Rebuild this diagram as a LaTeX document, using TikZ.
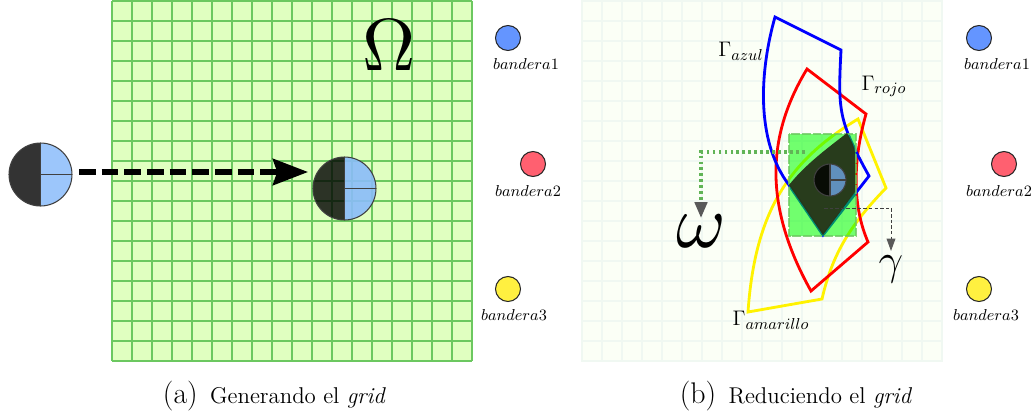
\documentclass[tikz,border=0pt]{standalone}
\usepackage{amsmath,amssymb}
\usepackage{tikz}
\usetikzlibrary{arrows.meta,positioning}

\definecolor{mallafondo}{HTML}{E0FFC0}
\definecolor{mallalinea}{HTML}{6CC860}
\definecolor{tenuefondo}{HTML}{FBFFF6}
\definecolor{tenuelinea}{HTML}{F0F8F2}
\definecolor{azulclaro}{HTML}{8ABCFA}
\definecolor{azulact}{HTML}{6090BD}
\definecolor{azulbandera}{HTML}{6495FF}
\definecolor{rojobandera}{HTML}{FF6070}
\definecolor{amarillobandera}{HTML}{FFF040}
\definecolor{cometa}{HTML}{26361A}

\begin{document}
\begin{tikzpicture}[
  x=0.02cm, y=-0.02cm,
  agente/.style 2 args={draw=black!75, line width=0.6pt, circle, inner sep=0pt,
    path picture={
      \fill[#1] (path picture bounding box.north west) rectangle (path picture bounding box.south);
      \fill[#2] (path picture bounding box.north) rectangle (path picture bounding box.south east);
      \draw[black!75, line width=0.7pt] (path picture bounding box.north) -- (path picture bounding box.south);
      \draw[black!75, line width=0.7pt] (path picture bounding box.center) -- (path picture bounding box.east);
    }},
  bandera/.style={draw=black!85, line width=0.6pt, circle, minimum size=0.5cm, inner sep=0pt},
  etiqueta/.style={font=\fontsize{8.7}{10}\selectfont, inner sep=0pt},
  gamma/.style={font=\fontsize{12.8}{14}\selectfont, inner sep=0pt},
  leyenda/.style={font=\fontsize{13}{15}\selectfont, inner sep=0pt},
  contorno/.style={line width=1.6pt, line join=miter},
  mover/.style={line width=2.9pt, dash pattern=on 9.5pt off 3.4pt,
                -{Stealth[length=20pt, width=15pt, inset=2.5pt]}},
  guia/.style={draw=mallalinea!90!black, line width=2pt, dash pattern=on 1.6pt off 1.8pt, shorten >=-1.7pt,
               -{Triangle[length=9pt, width=7pt, fill=black!65, color=black!65]}},
  guiados/.style={draw=black!75, line width=0.5pt, dash pattern=on 2pt off 1.2pt, shorten >=2.3pt,
                  -{Triangle[length=7pt, width=5pt, fill=black!65, color=black!65]}}
]
  \useasboundingbox (0,0) rectangle (1036,417);

  \fill[mallafondo] (112,1) rectangle (472,361);
  \foreach \k in {0,...,18} {
    \draw[mallalinea, line width=1.3pt] (112+20*\k,1) -- (112+20*\k,361);
    \draw[mallalinea, line width=1.3pt] (112,1+20*\k) -- (472,1+20*\k);
  }
  \fill[tenuefondo] (581,1) rectangle (943,361);
  \foreach \k in {0,...,18} {
    \draw[tenuelinea, line width=1.3pt] (582+20*\k,1) -- (582+20*\k,361);
    \draw[tenuelinea, line width=1.3pt] (581,1+20*\k) -- (943,1+20*\k);
  }

  \node[inner sep=0pt] (Om) at (389,45) {\scalebox{4.2}{$\Omega$}};

  \node[agente={black, fill opacity=0.8}{azulclaro!85!white}, minimum size=1.26cm] (ini) at (40.5,174.5) {};
  \node[agente={black, fill opacity=0.8}{azulclaro, fill opacity=0.9}, minimum size=1.26cm] (fin) at (344.5,188.5) {};
  \coordinate (sal) at (79,172);
  \coordinate (lle) at (308,172);
  \draw[mover] (sal) -- (lle);

  \node[bandera, fill=azulbandera]     (b1) at (508,38)  {};
  \node[bandera, fill=rojobandera]     (b2) at (533,164) {};
  \node[bandera, fill=amarillobandera] (b3) at (508,289) {};
  \node[etiqueta] (lb1) at (526,64)  {$bandera1$};
  \node[etiqueta] (lb2) at (528,191) {$bandera2$};
  \node[etiqueta] (lb3) at (514,315) {$bandera3$};

  \node[bandera, fill=azulbandera]     (c1) at (979,38)  {};
  \node[bandera, fill=rojobandera]     (c2) at (1004,164) {};
  \node[bandera, fill=amarillobandera] (c3) at (979,289) {};
  \node[etiqueta] (lc1) at (997,64)  {$bandera1$};
  \node[etiqueta] (lc2) at (999,191) {$bandera2$};
  \node[etiqueta] (lc3) at (986,315) {$bandera3$};

  \draw[contorno, yellow] (858,119) -- (886,188)
    .. controls (850,225) and (832,255) .. (822,299) -- (748,312)
    .. controls (755,210) and (790,160) .. cycle;
  \draw[contorno, red] (807,69) -- (866,114)
    .. controls (853,160) and (852,205) .. (868,242) -- (811,291)
    .. controls (760,200) and (770,130) .. cycle;
  \draw[contorno, blue] (775,17) -- (841,50)
    .. controls (838,110) and (838,120) .. (869,176) -- (823,235) -- (789,185)
    .. controls (755,140) and (760,70) .. cycle;

  \fill[green, fill opacity=0.55] (789,134) rectangle (856,236);
  \draw[mallalinea, opacity=0.8, line width=1.2pt, dash pattern=on 5pt off 1pt] (789,134) rectangle (856,236);
  \fill[cometa, fill opacity=0.97] (847,133) .. controls (851,140) and (855,147) .. (855,153)
    -- (855,192) -- (823,235) -- (789,185) .. controls (805,165) and (825,150) .. cycle;

  \node[agente={black, fill opacity=0.8}{azulact}, minimum size=0.64cm] (act) at (830,180) {};

  \node[gamma] (gaz) at (741,51)  {$\Gamma_{azul}$};
  \node[gamma] (gro) at (884,86)  {$\Gamma_{rojo}$};
  \node[gamma] (gam) at (771,320) {$\Gamma_{amarillo}$};

  \node[inner sep=0pt, anchor=north] (om) at (701,215) {\scalebox{4.3}{$\omega$}};
  \node[inner sep=0pt, font=\fontsize{25}{25}\selectfont, anchor=north] (ga) at (891,255) {$\gamma$};
  \coordinate (dv) at (805,152);
  \coordinate (dg) at (824,208);
  \draw[guia] (dv) -| (om.north);
  \draw[guiados] (dg) -| (ga.north);

  \node[leyenda] (capa) at (274.5,396) {{\fontsize{17}{17}\selectfont (a)}\hspace{7pt}Generando el \textit{grid}};
  \node[leyenda] (capb) at (796,396) {{\fontsize{17}{17}\selectfont (b)}\hspace{7pt}Reduciendo el \textit{grid}};
\end{tikzpicture}
\end{document}
